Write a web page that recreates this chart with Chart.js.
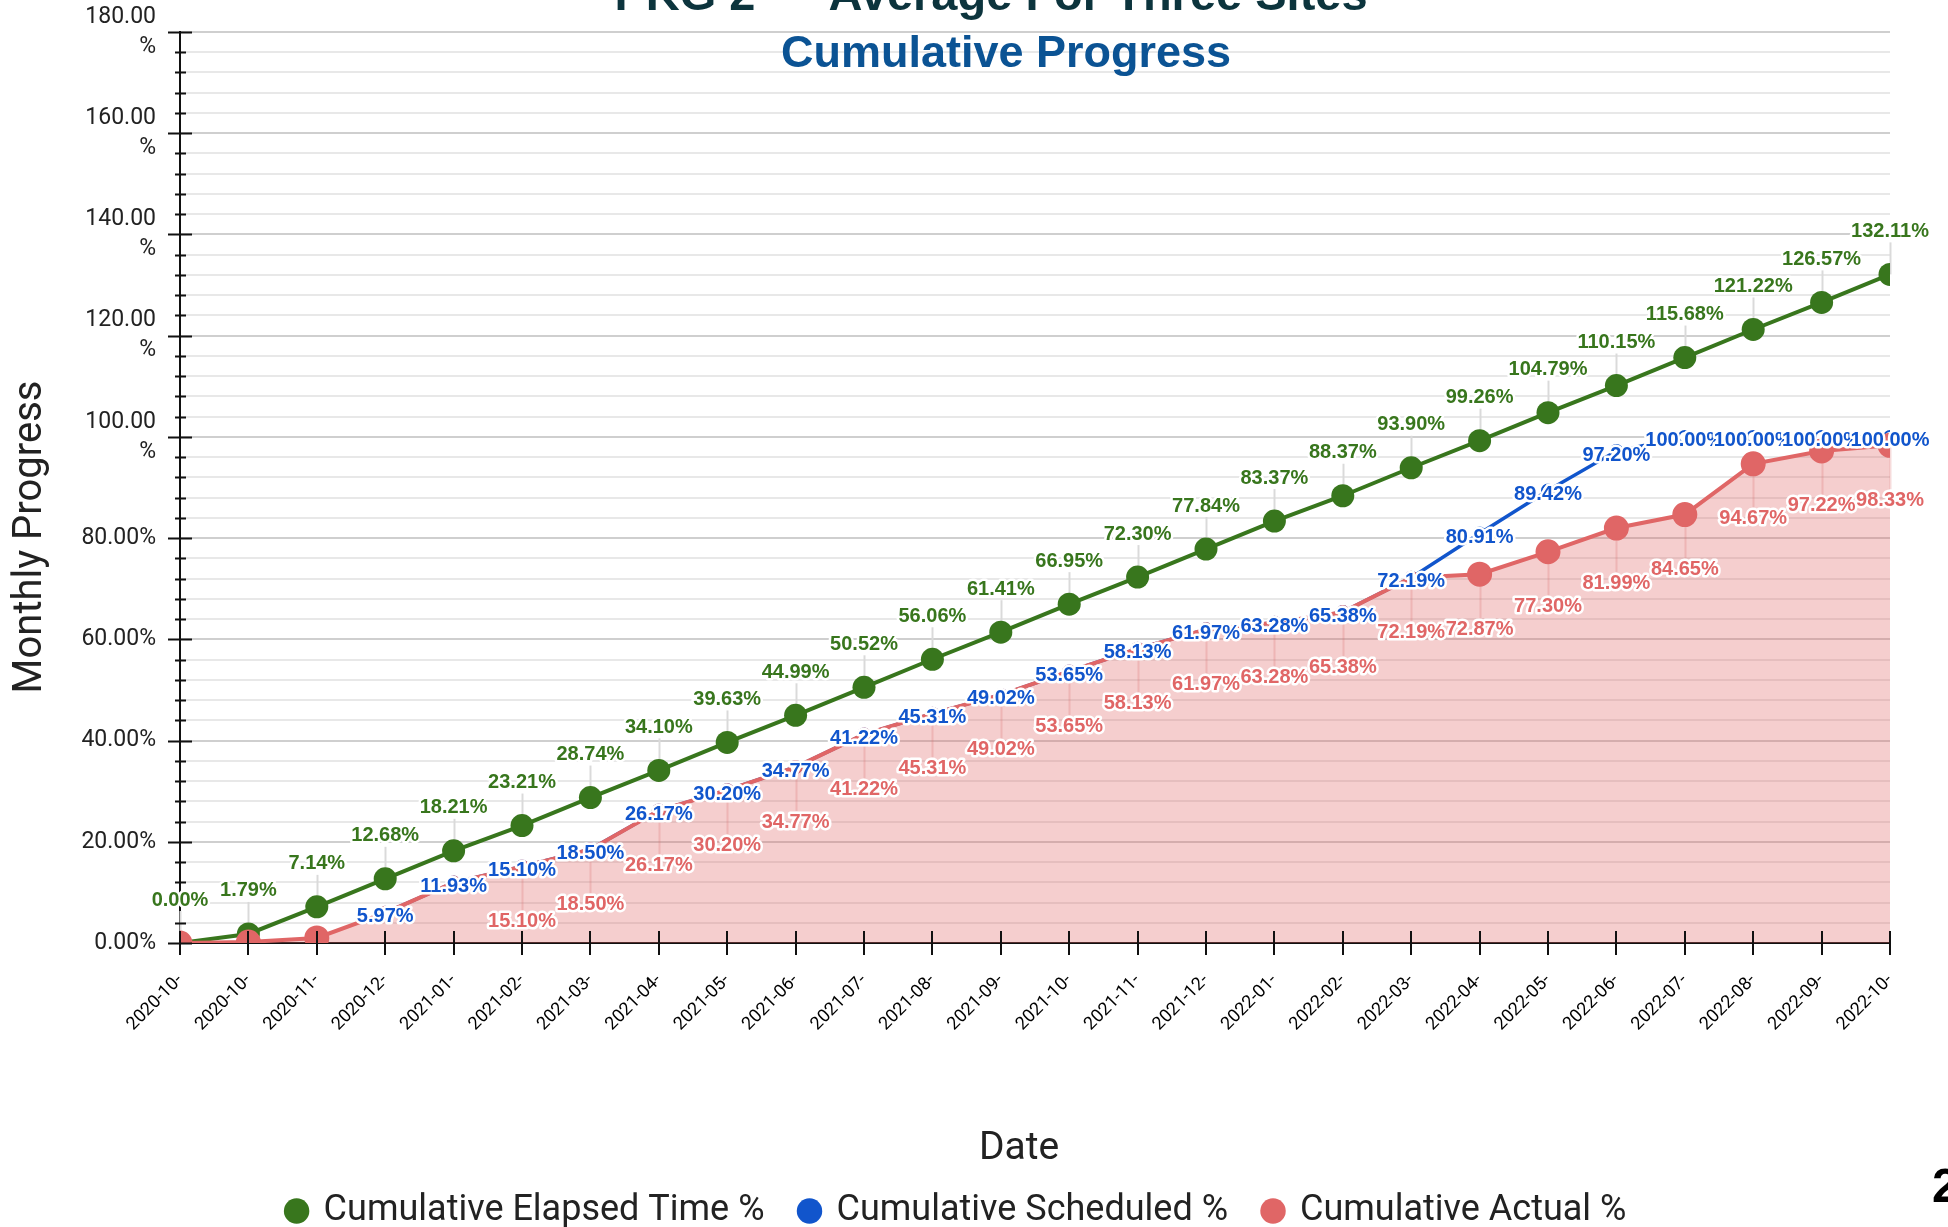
<!DOCTYPE html>
<html>
<head>
<meta charset="utf-8">
<title>Cumulative Progress</title>
<script src="https://cdn.jsdelivr.net/npm/chart.js@4.4.1/dist/chart.umd.min.js"></script>
<style>
    html, body { margin: 0; padding: 0; background: #fff; overflow: hidden; }
    #wrap { position: relative; width: 1948px; height: 1227px; }
    #chart { position: absolute; left: 0; top: 0; }
    #pageNo { position: absolute; left: 1932px; top: 1162px; font: bold 48px 'Liberation Sans', sans-serif; line-height: 48px; color: #000; }
</style>
</head>
<body>
<div id="wrap">
    <canvas id="chart" width="1948" height="1227"></canvas>
    <div id="pageNo">2</div>
</div>
<script>
// ---- data ----
const dateLabels = [
    '2020-10-', '2020-10-', '2020-11-', '2020-12-',
    '2021-01-', '2021-02-', '2021-03-', '2021-04-', '2021-05-', '2021-06-',
    '2021-07-', '2021-08-', '2021-09-', '2021-10-', '2021-11-', '2021-12-',
    '2022-01-', '2022-02-', '2022-03-', '2022-04-', '2022-05-', '2022-06-',
    '2022-07-', '2022-08-', '2022-09-', '2022-10-'
];
const elapsedPct = [0.00, 1.79, 7.14, 12.68, 18.21, 23.21, 28.74, 34.10, 39.63, 44.99, 50.52, 56.06, 61.41,
    66.95, 72.30, 77.84, 83.37, 88.37, 93.90, 99.26, 104.79, 110.15, 115.68, 121.22, 126.57, 132.11];
const scheduledPct = [null, null, null, 5.97, 11.93, 15.10, 18.50, 26.17, 30.20, 34.77, 41.22, 45.31, 49.02,
    53.65, 58.13, 61.97, 63.28, 65.38, 72.19, 80.91, 89.42, 97.20, 100.00, 100.00, 100.00, 100.00];
const actualPct = [0.00, 0.20, 1.00, 5.97, 11.93, 15.10, 18.50, 26.17, 30.20, 34.77, 41.22, 45.31, 49.02,
    53.65, 58.13, 61.97, 63.28, 65.38, 72.19, 72.87, 77.30, 81.99, 84.65, 94.67, 97.22, 98.33];
const seriesNames = ['Cumulative Elapsed Time %', 'Cumulative Scheduled %', 'Cumulative Actual %'];
const yMax = 180;
const yStep = 4;
const yLabelStep = 20;

const GREEN = '#38761d';
const BLUE = '#1155cc';
const RED = '#e06666';

// tick marks on both axes (major ones cross the axis line)
const axisTickPlugin = {
    id: 'axisTicks',
    afterDraw(chart) {
        const { ctx, scales: { x, y } } = chart;
        ctx.save();
        ctx.strokeStyle = '#111';
        ctx.lineWidth = 2;
        ctx.beginPath();
        x.ticks.forEach((t, i) => {
            const px = Math.round(x.getPixelForTick(i));
            ctx.moveTo(px, y.bottom - 12);
            ctx.lineTo(px, y.bottom + 12);
        });
        y.ticks.forEach((t, i) => {
            const py = Math.round(y.getPixelForTick(i)) + 0.5;
            const major = t.value % yLabelStep === 0;
            ctx.moveTo(x.left - (major ? 12 : 5), py);
            ctx.lineTo(x.left + (major ? 12 : 6), py);
        });
        ctx.stroke();
        ctx.restore();
    }
};

// value labels next to the points, with leader lines and a white halo
const pointLabelPlugin = {
    id: 'pointLabels',
    items(chart, opts) {
        const out = [];
        const area = chart.chartArea;
        chart.data.datasets.forEach((ds, di) => {
            const meta = chart.getDatasetMeta(di);
            const st = opts.styles[di];
            meta.data.forEach((pt, i) => {
                const v = ds.data[i];
                if (v === null || v === undefined) return;
                const cy = pt.y + st.dy;
                if (cy + opts.halfHeight > area.bottom) return;
                out.push({ x: pt.x, y: cy, py: pt.y, text: v.toFixed(2) + '%', st });
            });
        });
        return out;
    },
    beforeDatasetsDraw(chart, args, opts) {
        const { ctx } = chart;
        ctx.save();
        ctx.lineWidth = 2;
        this.items(chart, opts).forEach(it => {
            if (!it.st.leader) return;
            ctx.strokeStyle = it.st.leader;
            ctx.beginPath();
            const px = Math.round(it.x) + 0.5;
            if (it.st.dy < 0) {
                ctx.moveTo(px, it.y + opts.halfHeight);
                ctx.lineTo(px, it.py);
            } else {
                ctx.moveTo(px, it.py);
                ctx.lineTo(px, it.y - opts.halfHeight);
            }
            ctx.stroke();
        });
        ctx.restore();
    },
    afterDraw(chart, args, opts) {
        const { ctx } = chart;
        ctx.save();
        ctx.font = opts.font;
        ctx.textAlign = 'center';
        ctx.textBaseline = 'middle';
        ctx.lineJoin = 'round';
        ctx.lineWidth = 5;
        ctx.strokeStyle = '#fff';
        this.items(chart, opts).forEach(it => {
            ctx.strokeText(it.text, it.x, it.y);
            ctx.fillStyle = it.st.color;
            ctx.fillText(it.text, it.x, it.y);
        });
        ctx.restore();
    }
};

// titles and axis titles
const chartTextPlugin = {
    id: 'chartText',
    afterDraw(chart) {
        const { ctx } = chart;
        ctx.save();
        ctx.textAlign = 'center';
        ctx.textBaseline = 'alphabetic';
        ctx.fillStyle = '#0c343d';
        ctx.font = "bold 47px 'Liberation Sans'";
        ctx.fillText('PKG 2 \u2014 Average For Three Sites', 991, 10);
        ctx.fillStyle = '#0b5394';
        ctx.font = "bold 45px 'Liberation Sans'";
        ctx.fillText('Cumulative Progress', 1006, 67);

        ctx.fillStyle = '#222';
        ctx.font = "39px Roboto";
        ctx.textBaseline = 'middle';
        ctx.fillText('Date', 1019, 1149);
        ctx.font = "40px Roboto";
        ctx.translate(31, 537);
        ctx.rotate(-Math.PI / 2);
        ctx.fillText('Monthly Progress', 0, 0);
        ctx.restore();
    }
};

Chart.defaults.font.family = 'Roboto';

new Chart(document.getElementById('chart'), {
    type: 'line',
    data: {
        labels: dateLabels,
        datasets: [
            {
                label: seriesNames[0],
                data: elapsedPct,
                borderColor: GREEN,
                backgroundColor: GREEN,
                borderWidth: 4,
                pointRadius: 11.5,
                pointBorderWidth: 0,
                pointBackgroundColor: GREEN,
                fill: false,
                order: 3,
                clip: 0
            },
            {
                label: seriesNames[1],
                data: scheduledPct,
                borderColor: BLUE,
                backgroundColor: BLUE,
                borderWidth: 3.5,
                pointRadius: 6,
                pointBorderWidth: 2,
                pointBorderColor: BLUE,
                pointBackgroundColor: '#fff',
                fill: false,
                order: 2,
                clip: 0
            },
            {
                label: seriesNames[2],
                data: actualPct,
                borderColor: RED,
                backgroundColor: 'rgba(224,102,102,0.32)',
                borderWidth: 4,
                pointRadius: ctx => scheduledPct[ctx.dataIndex] === actualPct[ctx.dataIndex] ? 6 : 11.5,
                pointBorderWidth: 2,
                pointBorderColor: RED,
                pointBackgroundColor: ctx => scheduledPct[ctx.dataIndex] === actualPct[ctx.dataIndex] ? '#fff' : RED,
                fill: 'origin',
                order: 1,
                clip: 0
            }
        ]
    },
    options: {
        responsive: false,
        devicePixelRatio: 1,
        animation: false,
        events: [],
        layout: { padding: { top: 32, right: 58, bottom: -12, left: 24 } },
        elements: { line: { tension: 0 } },
        scales: {
            x: {
                type: 'category',
                offset: false,
                grid: { display: true, drawOnChartArea: false, offset: false, tickLength: 12, tickColor: 'rgba(0,0,0,0)' },
                border: { color: '#111', width: 2 },
                ticks: {
                    autoSkip: false,
                    minRotation: 45,
                    maxRotation: 45,
                    padding: 15,
                    color: '#000',
                    font: { family: 'Roboto', size: 18 }
                },
                afterFit(scale) {
                    scale.height = 214;
                    scale.paddingLeft = 0;
                    scale.paddingRight = 0;
                }
            },
            y: {
                min: 0,
                max: yMax,
                grid: {
                    color: ctx => ctx.tick && ctx.tick.value % yLabelStep === 0 ? '#cfcfcf' : '#e8e8e8',
                    lineWidth: 2,
                    tickLength: 12,
                    tickColor: 'rgba(0,0,0,0)'
                },
                border: { color: '#111', width: 2 },
                ticks: {
                    stepSize: yStep,
                    autoSkip: false,
                    padding: 12,
                    color: '#222',
                    font: { size: 23, lineHeight: 1.3 },
                    callback: v => {
                        if (v % yLabelStep !== 0) return '';
                        return v >= 100 ? [v.toFixed(2), '%'] : v.toFixed(2) + '%';
                    }
                },
                afterFit(scale) {
                    scale.width = 156;
                    scale.paddingTop = 0;
                    scale.paddingBottom = 0;
                }
            }
        },
        plugins: {
            title: { display: false },
            tooltip: { enabled: false },
            legend: {
                position: 'bottom',
                labels: {
                    usePointStyle: true,
                    pointStyle: 'circle',
                    boxWidth: 18,
                    boxHeight: 18,
                    padding: 36,
                    color: '#222',
                    font: { size: 36 },
                    sort: (a, b) => a.datasetIndex - b.datasetIndex,
                    generateLabels(chart) {
                        const items = Chart.defaults.plugins.legend.labels.generateLabels(chart);
                        items.forEach(it => {
                            const ds = chart.data.datasets[it.datasetIndex];
                            it.fillStyle = ds.borderColor;
                            it.strokeStyle = ds.borderColor;
                            it.lineWidth = 0;
                        });
                        return items;
                    }
                }
            },
            pointLabels: {
                font: "bold 20px 'Liberation Sans'",
                halfHeight: 11,
                styles: [
                    { dy: -43, color: GREEN, leader: '#dadada' },
                    { dy: 4, color: BLUE, leader: null },
                    { dy: 55, color: RED, leader: 'rgba(214,90,90,0.22)' }
                ]
            }
        }
    },
    plugins: [axisTickPlugin, pointLabelPlugin, chartTextPlugin]
});
</script>
</body>
</html>
